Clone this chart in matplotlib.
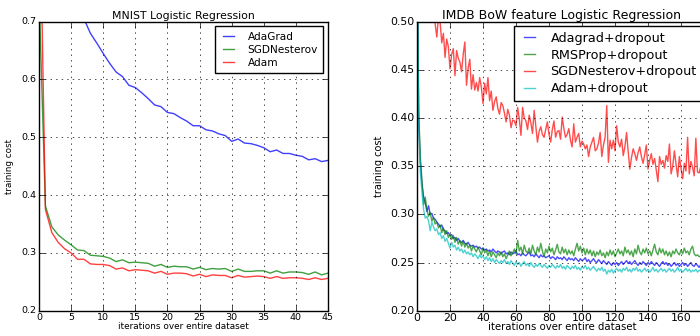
import numpy as np
import matplotlib
matplotlib.use('Agg')
import matplotlib.pyplot as plt

# MNIST logistic regression, one value per epoch (0..45)
mnist_epochs = list(range(46))
mnist_adagrad = [1.20, 0.98, 0.88, 0.82, 0.78, 0.75, 0.73, 0.705, 0.680, 0.663,
                 0.645, 0.628, 0.613, 0.605, 0.590, 0.586, 0.577, 0.567, 0.556, 0.553,
                 0.543, 0.541, 0.534, 0.528, 0.520, 0.520, 0.513, 0.511, 0.506, 0.503,
                 0.493, 0.497, 0.490, 0.489, 0.486, 0.482, 0.475, 0.478, 0.472, 0.472,
                 0.469, 0.467, 0.461, 0.463, 0.458, 0.460]
mnist_sgd = [0.75, 0.381, 0.345, 0.331, 0.322, 0.314, 0.305, 0.304, 0.296, 0.295,
             0.294, 0.291, 0.285, 0.288, 0.283, 0.284, 0.283, 0.282, 0.277, 0.280,
             0.275, 0.277, 0.276, 0.276, 0.272, 0.275, 0.271, 0.273, 0.272, 0.273,
             0.268, 0.272, 0.268, 0.268, 0.269, 0.269, 0.265, 0.269, 0.265, 0.267,
             0.267, 0.266, 0.263, 0.267, 0.262, 0.265]
mnist_adam = [1.00, 0.375, 0.335, 0.318, 0.307, 0.300, 0.289, 0.289, 0.281, 0.280,
              0.280, 0.278, 0.272, 0.274, 0.269, 0.271, 0.270, 0.269, 0.265, 0.268,
              0.263, 0.265, 0.265, 0.264, 0.260, 0.263, 0.259, 0.262, 0.261, 0.261,
              0.257, 0.261, 0.258, 0.259, 0.260, 0.259, 0.256, 0.259, 0.256, 0.257,
              0.257, 0.256, 0.254, 0.257, 0.254, 0.256]

# IMDB BoW logistic regression with dropout, one value per epoch (0..175)
imdb_epochs = list(range(176))
imdb_adagrad = [0.62, 0.400, 0.355, 0.332, 0.318, 0.312, 0.303, 0.309, 0.300, 0.301,
                0.296, 0.295, 0.292, 0.290, 0.287, 0.289, 0.284, 0.283, 0.280, 0.281,
                0.278, 0.279, 0.275, 0.276, 0.273, 0.275, 0.272, 0.271, 0.273, 0.270,
                0.269, 0.271, 0.268, 0.267, 0.268, 0.266, 0.267, 0.265, 0.266, 0.264,
                0.265, 0.263, 0.264, 0.262, 0.263, 0.261, 0.264, 0.262, 0.260, 0.262,
                0.261, 0.259, 0.261, 0.262, 0.259, 0.260, 0.258, 0.261, 0.259, 0.260,
                0.262, 0.258, 0.259, 0.257, 0.260, 0.258, 0.257, 0.259, 0.261, 0.257,
                0.258, 0.256, 0.259, 0.257, 0.255, 0.258, 0.256, 0.257, 0.255, 0.256,
                0.257, 0.254, 0.256, 0.255, 0.253, 0.256, 0.254, 0.255, 0.253, 0.256,
                0.254, 0.252, 0.255, 0.253, 0.254, 0.252, 0.255, 0.253, 0.251, 0.254,
                0.252, 0.253, 0.255, 0.251, 0.253, 0.250, 0.252, 0.254, 0.251, 0.250,
                0.253, 0.251, 0.249, 0.252, 0.250, 0.248, 0.251, 0.249, 0.247, 0.250,
                0.248, 0.250, 0.247, 0.249, 0.251, 0.248, 0.250, 0.252, 0.249, 0.251,
                0.248, 0.250, 0.252, 0.249, 0.247, 0.250, 0.248, 0.251, 0.249, 0.247,
                0.250, 0.248, 0.251, 0.249, 0.247, 0.250, 0.248, 0.246, 0.249, 0.251,
                0.248, 0.250, 0.247, 0.249, 0.246, 0.248, 0.250, 0.247, 0.249, 0.246,
                0.248, 0.250, 0.247, 0.249, 0.246, 0.248, 0.250, 0.247, 0.246, 0.249,
                0.247, 0.245, 0.248, 0.246, 0.248, 0.247]
imdb_rmsprop = [0.60, 0.410, 0.360, 0.335, 0.310, 0.318, 0.305, 0.298, 0.302, 0.293,
                0.297, 0.290, 0.292, 0.286, 0.289, 0.281, 0.286, 0.279, 0.283, 0.276,
                0.279, 0.274, 0.278, 0.271, 0.276, 0.269, 0.273, 0.267, 0.272, 0.266,
                0.270, 0.265, 0.268, 0.262, 0.267, 0.264, 0.261, 0.266, 0.262, 0.258,
                0.265, 0.260, 0.263, 0.257, 0.262, 0.256, 0.261, 0.258, 0.255, 0.260,
                0.257, 0.261, 0.256, 0.259, 0.254, 0.258, 0.262, 0.257, 0.260, 0.264,
                0.259, 0.273, 0.262, 0.266, 0.259, 0.268, 0.262, 0.260, 0.265, 0.259,
                0.268, 0.262, 0.258, 0.266, 0.261, 0.270, 0.262, 0.256, 0.264, 0.260,
                0.267, 0.261, 0.265, 0.258, 0.263, 0.269, 0.261, 0.259, 0.266, 0.260,
                0.264, 0.258, 0.263, 0.259, 0.262, 0.257, 0.264, 0.270, 0.262, 0.267,
                0.260, 0.265, 0.258, 0.264, 0.259, 0.263, 0.257, 0.262, 0.256, 0.261,
                0.258, 0.263, 0.257, 0.260, 0.255, 0.261, 0.257, 0.263, 0.258, 0.262,
                0.256, 0.260, 0.264, 0.259, 0.262, 0.257, 0.266, 0.260, 0.263, 0.258,
                0.262, 0.256, 0.264, 0.259, 0.268, 0.261, 0.258, 0.264, 0.260, 0.265,
                0.259, 0.262, 0.257, 0.263, 0.269, 0.261, 0.258, 0.265, 0.260, 0.264,
                0.258, 0.262, 0.257, 0.261, 0.256, 0.262, 0.259, 0.264, 0.260, 0.258,
                0.263, 0.259, 0.265, 0.260, 0.262, 0.258, 0.264, 0.267, 0.259, 0.257,
                0.258, 0.256, 0.257, 0.259, 0.256, 0.258]
imdb_sgd = [0.95, 0.78, 0.68, 0.63, 0.60, 0.58, 0.56, 0.55, 0.54, 0.525,
            0.510, 0.498, 0.484, 0.505, 0.500, 0.478, 0.488, 0.463, 0.482, 0.474,
            0.451, 0.466, 0.472, 0.444, 0.470, 0.462, 0.458, 0.448, 0.466, 0.479,
            0.434, 0.452, 0.461, 0.430, 0.445, 0.429, 0.437, 0.428, 0.442, 0.432,
            0.415, 0.436, 0.425, 0.442, 0.418, 0.428, 0.408, 0.417, 0.422, 0.410,
            0.404, 0.416, 0.413, 0.405, 0.396, 0.409, 0.403, 0.390, 0.398, 0.397,
            0.392, 0.411, 0.399, 0.382, 0.411, 0.400, 0.397, 0.388, 0.403, 0.395,
            0.384, 0.408, 0.391, 0.375, 0.386, 0.391, 0.383, 0.380, 0.388, 0.396,
            0.383, 0.375, 0.388, 0.397, 0.380, 0.386, 0.387, 0.378, 0.401, 0.389,
            0.380, 0.383, 0.389, 0.377, 0.370, 0.394, 0.375, 0.380, 0.384, 0.370,
            0.376, 0.373, 0.368, 0.372, 0.360, 0.370, 0.375, 0.380, 0.366, 0.368,
            0.374, 0.385, 0.360, 0.372, 0.380, 0.413, 0.354, 0.377, 0.368, 0.377,
            0.366, 0.392, 0.375, 0.370, 0.378, 0.361, 0.370, 0.385, 0.365, 0.347,
            0.359, 0.368, 0.363, 0.356, 0.364, 0.370, 0.360, 0.353, 0.362, 0.372,
            0.347, 0.356, 0.363, 0.352, 0.358, 0.346, 0.334, 0.360, 0.352, 0.356,
            0.348, 0.361, 0.355, 0.373, 0.342, 0.350, 0.366, 0.352, 0.339, 0.360,
            0.348, 0.337, 0.353, 0.345, 0.380, 0.342, 0.355, 0.349, 0.340, 0.379,
            0.344, 0.343, 0.350, 0.341, 0.348, 0.345]
imdb_adam = [0.58, 0.390, 0.345, 0.323, 0.305, 0.296, 0.298, 0.293, 0.283, 0.292,
             0.287, 0.283, 0.285, 0.279, 0.281, 0.275, 0.278, 0.272, 0.275, 0.270,
             0.265, 0.271, 0.266, 0.268, 0.263, 0.266, 0.262, 0.264, 0.260, 0.263,
             0.259, 0.261, 0.258, 0.260, 0.256, 0.259, 0.257, 0.254, 0.258, 0.255,
             0.257, 0.253, 0.256, 0.252, 0.255, 0.251, 0.254, 0.250, 0.253, 0.251,
             0.249, 0.252, 0.250, 0.253, 0.249, 0.251, 0.248, 0.252, 0.249, 0.247,
             0.251, 0.248, 0.250, 0.246, 0.249, 0.251, 0.247, 0.249, 0.246, 0.250,
             0.247, 0.245, 0.248, 0.246, 0.249, 0.247, 0.245, 0.248, 0.246, 0.244,
             0.247, 0.245, 0.248, 0.246, 0.244, 0.247, 0.245, 0.248, 0.244, 0.246,
             0.243, 0.247, 0.245, 0.243, 0.246, 0.244, 0.247, 0.243, 0.245, 0.242,
             0.246, 0.244, 0.247, 0.243, 0.245, 0.242, 0.244, 0.246, 0.243, 0.241,
             0.244, 0.242, 0.245, 0.241, 0.243, 0.238, 0.242, 0.240, 0.243, 0.239,
             0.242, 0.244, 0.241, 0.243, 0.240, 0.244, 0.242, 0.245, 0.241, 0.243,
             0.240, 0.244, 0.242, 0.245, 0.241, 0.243, 0.240, 0.242, 0.244, 0.241,
             0.243, 0.240, 0.242, 0.245, 0.241, 0.243, 0.240, 0.242, 0.244, 0.241,
             0.243, 0.240, 0.242, 0.244, 0.241, 0.243, 0.240, 0.242, 0.245, 0.241,
             0.243, 0.240, 0.242, 0.244, 0.241, 0.243, 0.240, 0.242, 0.241, 0.243,
             0.240, 0.242, 0.241, 0.243, 0.241, 0.242]

plt.style.use('classic')
plt.rcParams['font.family'] = ['DejaVu Sans']
plt.rcParams['figure.facecolor'] = 'white'
plt.rcParams['savefig.facecolor'] = 'white'

fig = plt.figure(figsize=(7, 3.36), dpi=100)
W, H = 700.0, 336.0

# left panel
ax1 = fig.add_axes([39/W, (H-310.7)/H, 289/W, 289/H])
ax1.plot(mnist_epochs, mnist_adagrad, 'b', lw=1, alpha=0.75, label='AdaGrad')
ax1.plot(mnist_epochs, mnist_sgd, 'g', lw=1, alpha=0.75, label='SGDNesterov')
ax1.plot(mnist_epochs, mnist_adam, 'r', lw=1, alpha=0.75, label='Adam')
ax1.set_xlim(0, 45)
ax1.set_ylim(0.2, 0.7)
ax1.set_xticks(range(0, 46, 5))
ax1.set_yticks([0.2, 0.3, 0.4, 0.5, 0.6, 0.7])
ax1.grid(True)
ax1.set_title('MNIST Logistic Regression', fontsize=7.8, pad=2)
ax1.set_xlabel('iterations over entire dataset', fontsize=6.4, labelpad=0)
ax1.set_ylabel('training cost', fontsize=6.3, labelpad=5)
ax1.tick_params(labelsize=6.8, pad=2)
ax1.legend(loc='upper right', fontsize=7.6, handlelength=1.6, borderaxespad=0.45,
           labelspacing=0.3, handletextpad=1.0, borderpad=0.5)

# right panel (cropped at the right edge of the figure)
ax2 = fig.add_axes([417/W, (H-310.7)/H, 330/W, 289/H])
ax2.plot(imdb_epochs, imdb_adagrad, 'b', lw=1, alpha=0.7, label='Adagrad+dropout')
ax2.plot(imdb_epochs, imdb_rmsprop, 'g', lw=1, alpha=0.7, label='RMSProp+dropout')
ax2.plot(imdb_epochs, imdb_sgd, 'r', lw=1, alpha=0.7, label='SGDNesterov+dropout')
ax2.plot(imdb_epochs, imdb_adam, 'c', lw=1, alpha=0.7, label='Adam+dropout')
ax2.set_xlim(0, 200)
ax2.set_ylim(0.2, 0.5)
ax2.set_xticks(range(0, 161, 20))
ax2.set_yticks(np.arange(0.2, 0.501, 0.05))
ax2.set_yticklabels(['%.2f' % v for v in np.arange(0.2, 0.501, 0.05)])
ax2.grid(True)
ax2.set_title('IMDB BoW feature Logistic Regression', fontsize=9, pad=2, x=(562-417)/330)
ax2.set_xlabel('iterations over entire dataset', fontsize=7.3, labelpad=0)
ax2.xaxis.set_label_coords((562-417)/330, -0.04)
ax2.set_ylabel('training cost', fontsize=7, labelpad=4)
ax2.tick_params(labelsize=7.8, pad=2)
ax2.legend(loc='upper left', bbox_to_anchor=(514/W, (H-26)/H), bbox_transform=fig.transFigure,
           fontsize=9.2, handlelength=1.5, labelspacing=0.3, handletextpad=0.9, borderpad=0.45,
           borderaxespad=0)

fig.savefig('out.png', dpi=100)
